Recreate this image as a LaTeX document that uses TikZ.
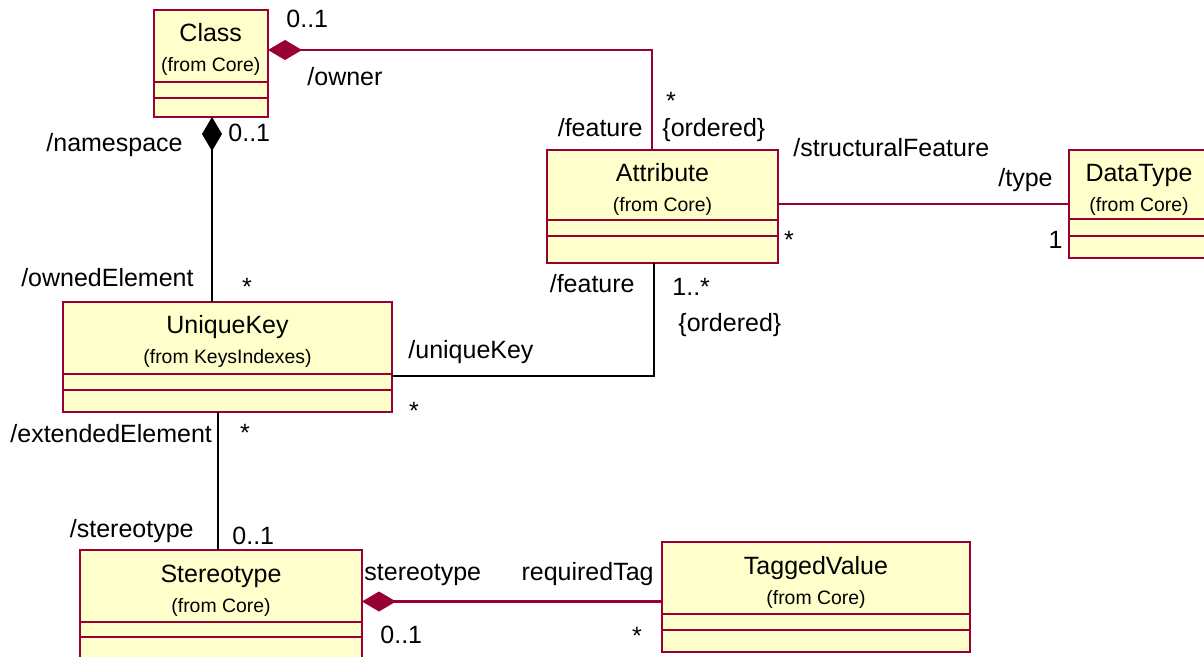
\documentclass[tikz,border=0pt]{standalone}
\usepackage{fontspec}
\setmainfont{Liberation Sans}
\usetikzlibrary{arrows.meta,fit,calc}
\definecolor{umlred}{RGB}{153,0,51}
\definecolor{umlfill}{RGB}{255,255,204}
\tikzset{
  clsbox/.style={draw=umlred, fill=umlfill, line width=1pt, inner sep=0pt, outer sep=0pt},
  sepline/.style={draw=umlred, line width=1pt},
  ttl/.style={font=\fontsize{12.5}{14}\selectfont, anchor=base, inner sep=0pt},
  frm/.style={font=\fontsize{9.7}{11}\selectfont, anchor=base, inner sep=0pt},
  lbl/.style={font=\fontsize{12.5}{14}\selectfont, inner sep=0pt},
  redcon/.style={draw=umlred, line width=1.1pt},
  blkcon/.style={draw=black, line width=1.1pt},
  rdiam/.style={{Diamond[length=17pt,width=10pt,fill=umlred]}-},
  bdiam/.style={{Diamond[length=17pt,width=10pt,fill=black]}-},
}
\newcommand{\umlclass}[9]{%
  \node[clsbox, fit={(#2,#3) (#4,#5)}] (#1) {};
  \draw[sepline] (#2,#6) -- (#4,#6);
  \draw[sepline] (#2,#7) -- (#4,#7);
  \node[ttl] (#1-t) at ($(#1.north)+(0,32)$) {#8};
  \node[frm] (#1-f) at ($(#1.north)+(0,62)$) {#9};
}
\begin{document}
\begin{tikzpicture}[x=0.5pt,y=-0.5pt]
\useasboundingbox (0,0) rectangle (1204,657);
\clip (0,0) rectangle (1204,657);
\fill[white] (0,0) rectangle (1204,657);

\umlclass{cls}{153.5}{10}{268}{117}{82}{98}{Class}{(from Core)}
\umlclass{attr}{547}{150}{778}{263}{220}{236}{Attribute}{(from Core)}
\umlclass{dt}{1069}{150}{1209}{258}{219}{236}{DataType}{(from Core)}
\umlclass{uk}{63}{302}{392}{412}{374}{390}{UniqueKey}{(from KeysIndexes)}
\umlclass{st}{80}{550}{362}{680}{622}{637}{Stereotype}{(from Core)}
\umlclass{tv}{662}{542}{970}{652}{614}{630}{TaggedValue}{(from Core)}

\coordinate (ownbend) at (652,50);
\coordinate (nsx) at (212,0);
\coordinate (sfy) at (0,204);
\coordinate (ukbend) at (654,376);
\coordinate (stx) at (218,0);
\coordinate (rty) at (0,601.5);

\draw[redcon, rdiam] (cls.east |- ownbend) -- (ownbend) -- (attr.north -| ownbend);
\draw[blkcon, bdiam] (cls.south -| nsx) -- (uk.north -| nsx);
\draw[redcon] (attr.east |- sfy) -- (dt.west |- sfy);
\draw[blkcon] (attr.south -| ukbend) -- (ukbend) -- (uk.east |- ukbend);
\draw[blkcon] (uk.south -| stx) -- (st.north -| stx);
\draw[redcon, rdiam] (st.east |- rty) -- (tv.west |- rty);

\node[lbl, anchor=base west] (l1) at (286,28) {0..1};
\node[lbl, anchor=base west] (l2) at (307,86) {/owner};
\node[lbl, anchor=base] (l3) at (671,110) {*};
\node[lbl, anchor=base east] (l4) at (643,137) {/feature};
\node[lbl, anchor=base west] (l5) at (662,137) {\{ordered\}};
\node[lbl, anchor=base west] (l6) at (793,157) {/structuralFeature};
\node[lbl, anchor=base east] (l7) at (1053,187) {/type};
\node[lbl, anchor=base] (l8) at (789,249) {*};
\node[lbl, anchor=base east] (l9) at (1063,249) {1};
\node[lbl, anchor=base east] (l10) at (183,152) {/namespace};
\node[lbl, anchor=base west] (l11) at (228,142) {0..1};
\node[lbl, anchor=base east] (l12) at (194,287) {/ownedElement};
\node[lbl, anchor=base] (l13) at (247,296) {*};
\node[lbl, anchor=base east] (l14) at (635,293) {/feature};
\node[lbl, anchor=base west] (l15) at (672,296) {1..*};
\node[lbl, anchor=base west] (l16) at (678,332) {\{ordered\}};
\node[lbl, anchor=base west] (l17) at (408,359) {/uniqueKey};
\node[lbl, anchor=base] (l18) at (414,420) {*};
\node[lbl, anchor=base west] (l19) at (10,443) {/extendedElement};
\node[lbl, anchor=base] (l20) at (245,441) {*};
\node[lbl, anchor=base east] (l21) at (194,537) {/stereotype};
\node[lbl, anchor=base west] (l22) at (232,544) {0..1};
\node[lbl, anchor=base west] (l23) at (364,580) {stereotype};
\node[lbl, anchor=base east] (l24) at (654,580) {requiredTag};
\node[lbl, anchor=base west] (l25) at (380,643) {0..1};
\node[lbl, anchor=base] (l26) at (637,644) {*};
\end{tikzpicture}
\end{document}
